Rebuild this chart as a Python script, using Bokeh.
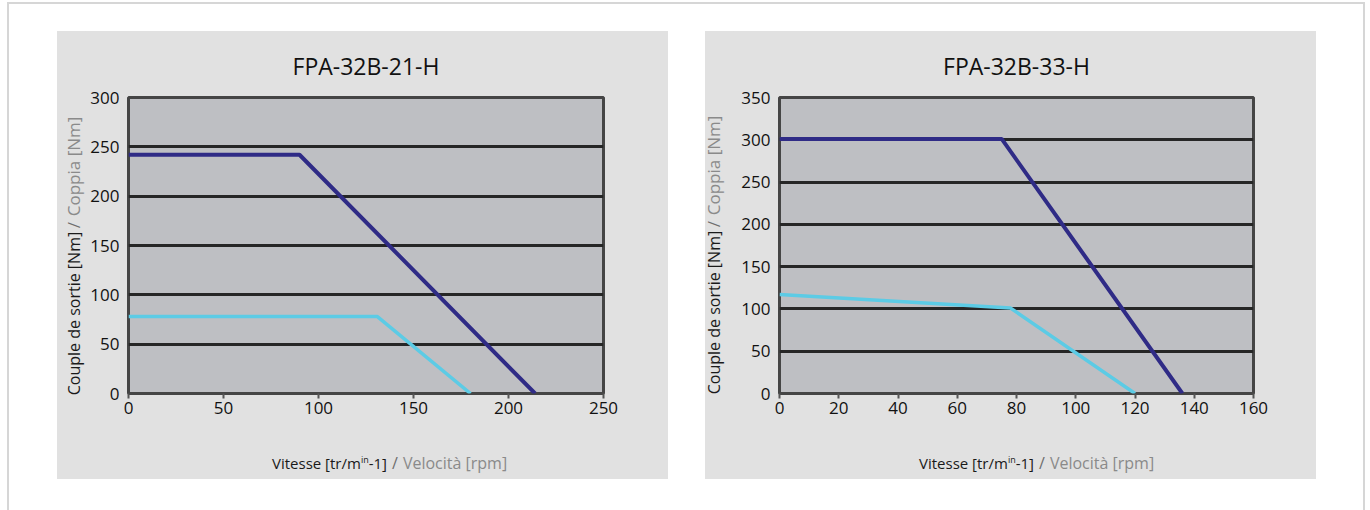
from bokeh.plotting import figure
from bokeh.models import Range1d, FixedTicker, Spacer, Div
from bokeh.layouts import row, column
from bokeh.embed import file_html
from bokeh.resources import INLINE

# ---------------- data ----------------
titles = ["FPA-32B-21-H", "FPA-32B-33-H"]

# chart 1
c1_x_ticks = [0, 50, 100, 150, 200, 250]
c1_y_ticks = [0, 50, 100, 150, 200, 250, 300]
c1_blue_x = [0, 90, 214]
c1_blue_y = [242, 242, 0]
c1_cyan_x = [0, 131, 180]
c1_cyan_y = [78, 78, 0]

# chart 2
c2_x_ticks = [0, 20, 40, 60, 80, 100, 120, 140, 160]
c2_y_ticks = [0, 50, 100, 150, 200, 250, 300, 350]
c2_blue_x = [0, 75, 136]
c2_blue_y = [301, 301, 0]
c2_cyan_x = [0, 78, 120]
c2_cyan_y = [117, 101, 0]

y_label_main = "Couple de sortie [Nm]"
y_label_alt = "Coppia [Nm]"
x_label_main = "Vitesse [tr/m<sup style='font-size:9px'>in</sup>-1]"
x_label_alt = "Velocità [rpm]"

FONT = "Open Sans"
BLUE = "#2f2b86"
CYAN = "#5ccbe5"
PANEL = "#e1e1e1"
FRAME_BG = "#bebfc3"
GREY_TXT = "#8a8a8a"
SLASH = "#6e6e6e"


def y_label_div(height, left_pad, bottom_pad):
    html = (
        f"<div style='height:{height}px;width:28px;display:flex;flex-direction:column;"
        f"justify-content:flex-end;align-items:flex-start;'>"
        f"<div style=\"writing-mode:vertical-rl;transform:rotate(180deg);white-space:nowrap;"
        f"margin-left:{left_pad}px;margin-bottom:{bottom_pad}px;line-height:18px;"
        f"font-family:'{FONT}';font-size:16px;color:#1a1a1a;\">"
        f"{y_label_main}<span style='color:{SLASH};font-size:17px;margin-top:4px;"
        f"display:inline-block'>/</span>"
        f"<span style='color:{GREY_TXT};font-size:17px;margin-top:5px;display:inline-block'>"
        f"{y_label_alt}</span></div></div>"
    )
    return Div(text=html, width=28, height=height, margin=0,
               styles={"background-color": PANEL})


def x_label_div(width, left_pad):
    html = (
        f"<div style=\"padding-left:{left_pad}px;padding-top:11px;white-space:nowrap;"
        f"font-family:'{FONT}';font-size:15px;line-height:18px;color:#1a1a1a;\">"
        f"{x_label_main}<span style='color:{SLASH};font-size:16px;margin-left:5px'>/</span>"
        f"<span style='color:{GREY_TXT};font-size:16px;margin-left:5px'>{x_label_alt}</span>"
        f"</div>"
    )
    return Div(text=html, width=width, height=39, margin=0,
               styles={"background-color": PANEL, "overflow": "hidden"})


def make_chart(title, x_ticks, y_ticks, bx, by, cx, cy, width, mbl, mbr):
    p = figure(width=width, height=409,
               x_range=Range1d(x_ticks[0], x_ticks[-1]),
               y_range=Range1d(y_ticks[0], y_ticks[-1]),
               output_backend="svg", toolbar_location=None,
               min_border_left=mbl, min_border_right=mbr,
               min_border_top=66, min_border_bottom=47,
               background_fill_color=FRAME_BG, border_fill_color=PANEL,
               outline_line_color="#454545", outline_line_width=3)
    p.title.text = title
    p.title.align = "center"
    p.title.text_font = FONT
    p.title.text_font_size = "23px"
    p.title.text_font_style = "normal"
    p.title.text_color = "#111111"
    p.title.standoff = 31

    p.line(bx, by, line_color=BLUE, line_width=4)
    p.line(cx, cy, line_color=CYAN, line_width=3.5)

    p.xaxis.ticker = FixedTicker(ticks=x_ticks)
    p.yaxis.ticker = FixedTicker(ticks=y_ticks)
    for ax in (p.xaxis, p.yaxis):
        ax.axis_line_color = None
        ax.minor_tick_line_color = None
        ax.major_label_text_font = FONT
        ax.major_label_text_font_size = "17px"
        ax.major_label_text_color = "#111111"
    p.xaxis.major_tick_line_color = "#555555"
    p.xaxis.major_tick_line_width = 2
    p.xaxis.major_tick_out = 5
    p.xaxis.major_tick_in = 0
    p.xaxis.major_label_standoff = 3
    p.yaxis.major_tick_line_color = None
    p.yaxis.major_tick_out = 0
    p.yaxis.major_tick_in = 0
    p.yaxis.major_label_standoff = 9

    p.xgrid.grid_line_color = None
    p.ygrid.ticker = FixedTicker(ticks=y_ticks)
    p.ygrid.grid_line_color = "#262626"
    p.ygrid.grid_line_width = 3
    return p


p1 = make_chart(titles[0], c1_x_ticks, c1_y_ticks, c1_blue_x, c1_blue_y,
                c1_cyan_x, c1_cyan_y, 583, 43, 65)
p2 = make_chart(titles[1], c2_x_ticks, c2_y_ticks, c2_blue_x, c2_blue_y,
                c2_cyan_x, c2_cyan_y, 583, 46, 63)

bg = {"background-color": PANEL}
panel1 = column(row(y_label_div(409, 8, 45), p1, spacing=0, styles=bg),
                x_label_div(611, 215), spacing=0, styles=bg)
panel2 = column(row(y_label_div(409, 0, 46), p2, spacing=0, styles=bg),
                x_label_div(611, 214), spacing=0, styles=bg)

inner = row(Spacer(width=48, height=448), panel1, Spacer(width=37, height=448), panel2,
            Spacer(width=47, height=448), spacing=0)
boxed = column(Spacer(width=1354, height=27), inner, Spacer(width=1354, height=31),
               spacing=0,
               styles={"border-top": "2px solid #d6d6d6",
                       "border-left": "2px solid #d6d6d6",
                       "border-right": "2px solid #d6d6d6",
                       "background-color": "white"})
layout = column(Spacer(width=1365, height=2), row(Spacer(width=7, height=506), boxed),
                spacing=0)

open("out.html", "w").write(file_html(layout, INLINE))
